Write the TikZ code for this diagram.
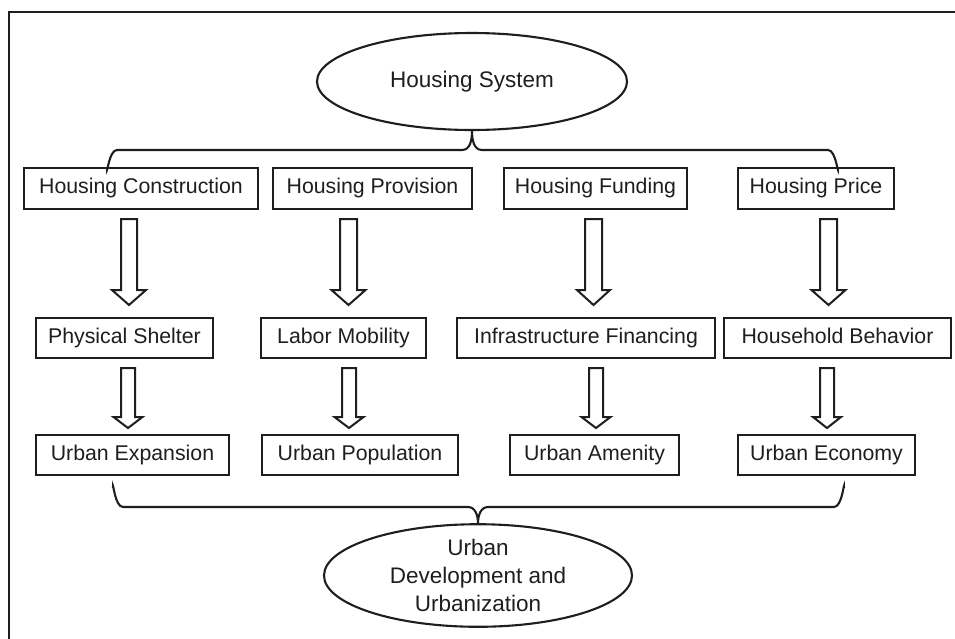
\documentclass[tikz,border=0pt]{standalone}
\usepackage{fontspec}
\setmainfont{Liberation Sans}
\usetikzlibrary{shapes.geometric,calc}
\definecolor{ink}{HTML}{1E1E1E}
\tikzset{
  every node/.style={text=ink, font=\fontsize{21.3}{28}\selectfont},
  boxnode/.style={draw=ink, line width=2pt, rectangle, minimum height=40.5pt, inner sep=0pt, text height=15pt, text depth=4.5pt},
  ovalnode/.style={draw=ink, line width=2.1pt, ellipse, inner sep=0pt, align=center, font=\fontsize{22.5}{28}\selectfont},
  bracepath/.style={draw=ink, line width=2.1pt},
  hollowarrow/.style={draw=ink, line width=2pt, fill=white, line join=miter},
  framepath/.style={draw=ink, line width=2.8pt}
}
% hollow down arrow: #1 = centre x, #2 = top y, #3 = tip y, #4 shaft half width, #5 head half width, #6 head length
\newcommand{\hdarrow}[6]{%
  \path[hollowarrow] (#1-#4,#2) -- (#1+#4,#2) -- (#1+#4,#3-#6) -- (#1+#5,#3-#6) -- (#1,#3) -- (#1-#5,#3-#6) -- (#1-#4,#3-#6) -- cycle;}
\begin{document}
\begin{tikzpicture}[x=1pt,y=-1pt]
\useasboundingbox (0,0) rectangle (955,638);
\clip (0,0) rectangle (955,638);
\fill[white] (0,0) rectangle (955,638);
% frame (left and top edges visible)
\path[framepath] (9,660) -- (9,12) -- (980,12);

% top ellipse
\node[ovalnode, minimum width=310pt, minimum height=97pt] (hs) at (472,81.5) {Housing System};

% row 1
\node[boxnode, minimum width=234pt] (hc)  at (141,188.5) {Housing Construction};
\node[boxnode, minimum width=199pt] (hp)  at (372.5,188.5) {Housing Provision};
\node[boxnode, minimum width=183pt] (hf)  at (595.5,188.5) {Housing Funding};
\node[boxnode, minimum width=156pt] (hpr) at (816,188.5) {Housing Price};

% row 2
\node[boxnode, minimum width=177pt] (ps) at (124.5,338) {Physical Shelter};
\node[boxnode, minimum width=165pt] (lm) at (343.5,338) {Labor Mobility};
\node[boxnode, minimum width=258pt] (inf) at (586,338) {Infrastructure Financing};
\node[boxnode, minimum width=227pt] (hb) at (837.5,338) {Household Behavior};

% row 3
\node[boxnode, minimum width=193pt] (ue) at (132.5,455) {Urban Expansion};
\node[boxnode, minimum width=196pt] (upo) at (360,455) {Urban Population};
\node[boxnode, minimum width=169pt] (ua) at (594.5,455) {Urban Amenity};
\node[boxnode, minimum width=177pt] (uec) at (826.5,455) {Urban Economy};

% bottom ellipse
\node[ovalnode, minimum width=308pt, minimum height=97pt] (ud) at (478,575.5) {Urban\\Development and\\Urbanization};

% top brace
\coordinate (tl) at (107,168);
\coordinate (tr) at (838,168);
\path[bracepath] (tl) to[out=-90,in=180] (117,150) -- (462,150) to[out=0,in=-90] (hs.south)
                 (hs.south) to[out=-90,in=180] (482,150) -- (828,150) to[out=0,in=-90] (tr);

% bottom brace
\coordinate (bl) at (113,488);
\coordinate (br) at (844,488);
\path[bracepath] (bl) to[out=90,in=180] (123,507) -- (468,507) to[out=0,in=90] (ud.north)
                 (ud.north) to[out=90,in=180] (488,507) -- (834,507) to[out=0,in=90] (br);

% long arrows (row 1 -> row 2)
\hdarrow{129}{219}{305}{8}{17}{15}
\hdarrow{348.5}{219}{305}{8.5}{17}{15}
\hdarrow{593.5}{219}{305}{8.5}{16.5}{15}
\hdarrow{828.5}{219}{305}{8.5}{17}{15}

% short arrows (row 2 -> row 3)
\hdarrow{128}{368}{428}{7}{14.5}{11}
\hdarrow{349}{368}{428}{7}{14.5}{11}
\hdarrow{596}{368}{428}{7}{14.5}{11}
\hdarrow{827}{368}{428}{7}{14}{11}
\end{tikzpicture}
\end{document}
